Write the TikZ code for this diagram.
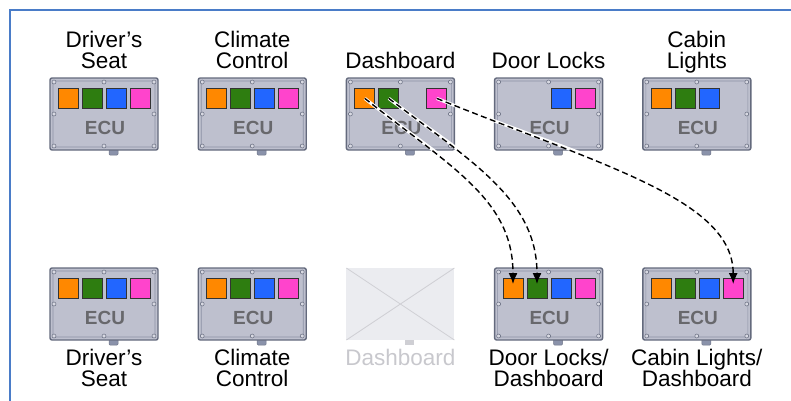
\documentclass[tikz,border=0pt]{standalone}
\usepackage{fontspec}
\setmainfont{Liberation Sans}
\usetikzlibrary{arrows.meta}

\definecolor{sqorange}{HTML}{FF8800}
\definecolor{sqgreen}{HTML}{2E7D10}
\definecolor{sqblue}{HTML}{2266FF}
\definecolor{sqpink}{HTML}{FF44CC}
\definecolor{boxfill}{HTML}{BEC0CE}
\definecolor{boxedge}{HTML}{646A7D}
\definecolor{boxinner}{HTML}{8C91A5}
\definecolor{tabfill}{HTML}{8A92AA}
\definecolor{screwfill}{HTML}{D8D9E2}
\definecolor{ecugray}{HTML}{68686C}
\definecolor{framblue}{HTML}{4A7CC8}
\definecolor{ghostfill}{HTML}{EBECF0}
\definecolor{ghostline}{HTML}{CFCFD4}
\definecolor{ghosttext}{HTML}{C8C8CD}

\tikzset{
  lbl/.style={anchor=base, inner sep=0pt, font=\fontsize{22.5}{22}\selectfont},
  ghostlbl/.style={lbl, text=ghosttext},
  sq/.style={draw=black!80, line width=0.8pt, minimum size=20pt, inner sep=0pt, anchor=north west},
  ecutext/.style={anchor=base, inner sep=0pt, text=ecugray, font=\fontsize{19}{19}\bfseries},
  screw/.style={fill=screwfill, draw=boxedge, line width=0.5pt},
  link/.style={draw=black, line width=1.4pt, dash pattern=on 6pt off 3.5pt,
               -{Latex[length=11pt,width=9pt]}},
  linkbg/.style={draw=white, line width=3.2pt},
  % ECU housing; argument: slot/colour pairs for the connector squares
  ecubox/.pic={
    \draw[tabfill!80!black, fill=tabfill, line width=0.5pt, rounded corners=1pt] (59,68) rectangle (68,77);
    \draw[boxedge, fill=boxfill, line width=1.4pt, rounded corners=2pt] (0,0) rectangle (108,72);
    \draw[boxinner, line width=0.6pt, rounded corners=2pt] (3,3) rectangle (105,69);
    \foreach \sx/\sy in {4/4,54/4,104/4,4/36,104/36,4/68,54/68,104/68}
      \draw[screw] (\sx,\sy) circle (2pt);
    \node[ecutext] (-ecu) at (55,56) {ECU};
    \foreach \k/\c in {#1}
      \node[sq, fill=\c] (-s\k) at (8+24*\k,10) {};
  },
  ghostbox/.pic={
    \fill[ghostline] (59,70) rectangle (68,77);
    \fill[ghostfill] (0,0) rectangle (108,72);
    \draw[ghostline, line width=0.8pt] (0,0) -- (108,72) (108,0) -- (0,72);
  }
}

\begin{document}
\begin{tikzpicture}[x=1pt, y=-1pt]
\useasboundingbox (0,0) rectangle (791,400);
\draw[framblue, line width=1.2pt] (10,10) rectangle (820,420);

% top row
\pic (ta) at (50,78)    {ecubox={0/sqorange,1/sqgreen,2/sqblue,3/sqpink}};
\pic (tb) at (198.2,78) {ecubox={0/sqorange,1/sqgreen,2/sqblue,3/sqpink}};
\pic (tc) at (346.4,78) {ecubox={0/sqorange,1/sqgreen,3/sqpink}};
\pic (td) at (494.6,78) {ecubox={2/sqblue,3/sqpink}};
\pic (te) at (642.8,78) {ecubox={0/sqorange,1/sqgreen,2/sqblue}};

\node[lbl] (la1) at (104,47) {Driver’s};
\node[lbl] (la2) at (104,68) {Seat};
\node[lbl] (lb1) at (252.2,47) {Climate};
\node[lbl] (lb2) at (252.2,68) {Control};
\node[lbl] (lc1) at (400.4,68) {Dashboard};
\node[lbl] (ld1) at (548.6,68) {Door Locks};
\node[lbl] (le1) at (696.8,47) {Cabin};
\node[lbl] (le2) at (696.8,68) {Lights};

% bottom row
\pic (ba) at (50,268)    {ecubox={0/sqorange,1/sqgreen,2/sqblue,3/sqpink}};
\pic (bb) at (198.2,268) {ecubox={0/sqorange,1/sqgreen,2/sqblue,3/sqpink}};
\pic (bc) at (346.4,268) {ghostbox};
\pic (bd) at (494.6,268) {ecubox={0/sqorange,1/sqgreen,2/sqblue,3/sqpink}};
\pic (be) at (642.8,268) {ecubox={0/sqorange,1/sqgreen,2/sqblue,3/sqpink}};

\node[lbl] (ma1) at (104,365) {Driver’s};
\node[lbl] (ma2) at (104,386) {Seat};
\node[lbl] (mb1) at (252.2,365) {Climate};
\node[lbl] (mb2) at (252.2,386) {Control};
\node[ghostlbl] (mc1) at (400.4,365) {Dashboard};
\node[lbl] (md1) at (548.6,365) {Door Locks/};
\node[lbl] (md2) at (548.6,386) {Dashboard};
\node[lbl] (me1) at (696.8,365) {Cabin Lights/};
\node[lbl] (me2) at (696.8,386) {Dashboard};

% signals moved off the dashboard ECU
\coordinate (tipo) at ([yshift=-6pt]bd-s0.north);
\coordinate (tipg) at ([yshift=-6pt]bd-s1.north);
\coordinate (tipp) at ([yshift=-6pt]be-s3.north);
\coordinate (endo) at ([yshift=12pt]bd-s0.north);
\coordinate (endg) at ([yshift=12pt]bd-s1.north);
\coordinate (endp) at ([yshift=12pt]be-s3.north);

\path[linkbg] (tc-s0.center) .. controls +(88,70) and +(0,-72) .. (endo);
\path[linkbg] (tc-s1.center) .. controls +(84,64) and +(0,-72) .. (endg);
\path[linkbg] (tc-s3.center) .. controls +(168,68) and +(0,-72) .. (endp);
\path[link] (tc-s0.center) .. controls +(88,70) and +(0,-84) .. (tipo);
\path[link] (tc-s1.center) .. controls +(84,64) and +(0,-84) .. (tipg);
\path[link] (tc-s3.center) .. controls +(168,68) and +(0,-84) .. (tipp);
\end{tikzpicture}
\end{document}
